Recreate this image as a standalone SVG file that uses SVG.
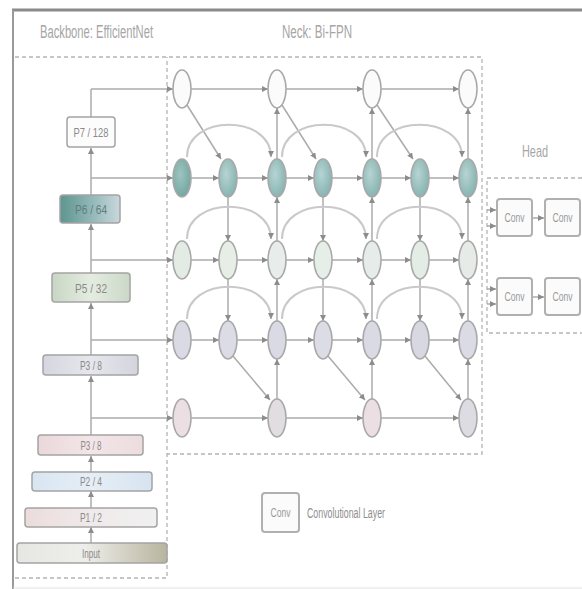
<svg xmlns="http://www.w3.org/2000/svg" width="582" height="589" viewBox="0 0 582 589">
<defs>
<style>
.ttl{font-family:"Liberation Sans",Arial,sans-serif;fill:#a6a6a6;font-size:18px}
.lbl{font-family:"Liberation Sans",Arial,sans-serif;fill:#8a8a8a;font-size:13px;text-anchor:middle}
.cv{font-family:"Liberation Sans",Arial,sans-serif;fill:#9a9a9a;font-size:12px;text-anchor:middle}
.dash{fill:none;stroke:#b4b4b4;stroke-width:1.3;stroke-dasharray:4 3}
.box{stroke:#a4a4a4;stroke-width:1.5}
.cbox{fill:#fbfbfb;stroke:#b0b0b0;stroke-width:2}
.nd{stroke:#a8a8a8;stroke-width:1.5}
.e{fill:none;stroke:#ababab;stroke-width:1.5;marker-end:url(#ah)}
.arc{fill:none;stroke:#c9c9c9;stroke-width:2;marker-end:url(#ah)}
.ln{fill:none;stroke:#ababab;stroke-width:1.5}
</style>
<marker id="ah" markerWidth="6" markerHeight="6" refX="6" refY="3" orient="auto" markerUnits="userSpaceOnUse">
<path d="M0,0 L6,3 L0,6 z" fill="#8c8c8c"/>
</marker>
<linearGradient id="gP6" x1="0" x2="1" y1="0" y2="0"><stop offset="0" stop-color="#5e958f"/><stop offset="0.5" stop-color="#8fb5b5"/><stop offset="1" stop-color="#c9d8dd"/></linearGradient>
<linearGradient id="gP5" x1="0" x2="1"><stop offset="0" stop-color="#c8d6c4"/><stop offset="0.5" stop-color="#e4ece0"/><stop offset="1" stop-color="#cbd8c8"/></linearGradient>
<linearGradient id="gP4" x1="0" x2="1"><stop offset="0" stop-color="#d6d6e0"/><stop offset="0.5" stop-color="#e6e6ec"/><stop offset="1" stop-color="#d4d4de"/></linearGradient>
<linearGradient id="gP3" x1="0" x2="1"><stop offset="0" stop-color="#ead8da"/><stop offset="0.5" stop-color="#f3e6e8"/><stop offset="1" stop-color="#ecdcde"/></linearGradient>
<linearGradient id="gP2" x1="0" x2="1"><stop offset="0" stop-color="#d8e6f2"/><stop offset="0.5" stop-color="#e6eef6"/><stop offset="1" stop-color="#d6e4f0"/></linearGradient>
<linearGradient id="gP1" x1="0" x2="1"><stop offset="0" stop-color="#ecdcdc"/><stop offset="0.5" stop-color="#f0eaea"/><stop offset="1" stop-color="#f0f0f0"/></linearGradient>
<linearGradient id="gIn" x1="0" x2="1"><stop offset="0" stop-color="#e6e6e2"/><stop offset="0.45" stop-color="#eeeeea"/><stop offset="1" stop-color="#b8b49e"/></linearGradient>
<radialGradient id="gT" cx="0.4" cy="0.4" r="0.7"><stop offset="0" stop-color="#b6d4d3"/><stop offset="1" stop-color="#80b0ac"/></radialGradient>
<radialGradient id="gT1" cx="0.4" cy="0.4" r="0.7"><stop offset="0" stop-color="#9ec4c0"/><stop offset="1" stop-color="#6ea49e"/></radialGradient>
</defs>
<rect width="582" height="589" fill="#ffffff"/>
<!-- frame -->
<line x1="12" y1="10" x2="582" y2="10" stroke="#8a8a8a" stroke-width="3"/>
<line x1="13" y1="10" x2="13" y2="589" stroke="#9a9a9a" stroke-width="2"/>
<line x1="13" y1="588" x2="582" y2="588" stroke="#e2e2e2" stroke-width="1"/>
<!-- section boxes -->
<g id="sections">
<polyline class="dash" points="15,57 482,57 482,454 167,454"/>
<polyline class="dash" points="15,578 167,578 167,57"/>
<polyline class="dash" points="582,178 487,178 487,333 582,333"/>
<text class="ttl" x="40" y="38" textLength="113" lengthAdjust="spacingAndGlyphs">Backbone: EfficientNet</text>
<text class="ttl" x="282" y="38" textLength="70" lengthAdjust="spacingAndGlyphs">Neck: Bi-FPN</text>
<text class="ttl" x="522" y="157" textLength="26" lengthAdjust="spacingAndGlyphs" style="font-size:16px">Head</text>
</g>
<!-- connectors -->
<g id="connectors">
<line class="e" x1="91" y1="543" x2="91" y2="527"/>
<line class="e" x1="91" y1="508" x2="91" y2="491"/>
<line class="e" x1="91" y1="472" x2="91" y2="456"/>
<line class="e" x1="91" y1="435" x2="91" y2="376"/>
<line class="e" x1="91" y1="355" x2="91" y2="303"/>
<line class="e" x1="91" y1="273" x2="91" y2="224"/>
<line class="e" x1="91" y1="195" x2="91" y2="148"/>
<line class="ln" x1="91" y1="117" x2="91" y2="89"/>
<line class="e" x1="91" y1="89" x2="173" y2="89"/>
<line class="e" x1="91" y1="178" x2="173" y2="178"/>
<line class="e" x1="91" y1="260" x2="173" y2="260"/>
<line class="e" x1="91" y1="340" x2="173" y2="340"/>
<line class="e" x1="91" y1="418" x2="173" y2="418"/>
<line class="e" x1="191" y1="89" x2="268" y2="89"/>
<line class="e" x1="286" y1="89" x2="363" y2="89"/>
<line class="e" x1="381" y1="89" x2="459" y2="89"/>
<line class="e" x1="191" y1="178" x2="219" y2="178"/>
<line class="e" x1="237" y1="178" x2="268" y2="178"/>
<line class="e" x1="286" y1="178" x2="314" y2="178"/>
<line class="e" x1="332" y1="178" x2="363" y2="178"/>
<line class="e" x1="381" y1="178" x2="411" y2="178"/>
<line class="e" x1="429" y1="178" x2="459" y2="178"/>
<line class="e" x1="191" y1="260" x2="219" y2="260"/>
<line class="e" x1="237" y1="260" x2="268" y2="260"/>
<line class="e" x1="286" y1="260" x2="314" y2="260"/>
<line class="e" x1="332" y1="260" x2="363" y2="260"/>
<line class="e" x1="381" y1="260" x2="411" y2="260"/>
<line class="e" x1="429" y1="260" x2="459" y2="260"/>
<line class="e" x1="191" y1="340" x2="219" y2="340"/>
<line class="e" x1="237" y1="340" x2="268" y2="340"/>
<line class="e" x1="286" y1="340" x2="314" y2="340"/>
<line class="e" x1="332" y1="340" x2="363" y2="340"/>
<line class="e" x1="381" y1="340" x2="411" y2="340"/>
<line class="e" x1="429" y1="340" x2="459" y2="340"/>
<line class="e" x1="191" y1="418" x2="268" y2="418"/>
<line class="e" x1="286" y1="418" x2="363" y2="418"/>
<line class="e" x1="381" y1="418" x2="459" y2="418"/>
<line class="e" x1="187" y1="105" x2="221" y2="159"/>
<line class="e" x1="282" y1="105" x2="316" y2="159"/>
<line class="e" x1="377" y1="105" x2="413" y2="159"/>
<line class="e" x1="233" y1="356" x2="270" y2="400"/>
<line class="e" x1="328" y1="356" x2="365" y2="400"/>
<line class="e" x1="425" y1="356" x2="461" y2="400"/>
<line class="e" x1="228" y1="197" x2="228" y2="241"/>
<line class="e" x1="323" y1="197" x2="323" y2="241"/>
<line class="e" x1="420" y1="197" x2="420" y2="241"/>
<line class="e" x1="228" y1="279" x2="228" y2="321"/>
<line class="e" x1="323" y1="279" x2="323" y2="321"/>
<line class="e" x1="420" y1="279" x2="420" y2="321"/>
<line class="e" x1="277" y1="159" x2="277" y2="108"/>
<line class="e" x1="372" y1="159" x2="372" y2="108"/>
<line class="e" x1="468" y1="159" x2="468" y2="108"/>
<line class="e" x1="277" y1="241" x2="277" y2="197"/>
<line class="e" x1="372" y1="241" x2="372" y2="197"/>
<line class="e" x1="468" y1="241" x2="468" y2="197"/>
<line class="e" x1="277" y1="321" x2="277" y2="279"/>
<line class="e" x1="372" y1="321" x2="372" y2="279"/>
<line class="e" x1="468" y1="321" x2="468" y2="279"/>
<line class="e" x1="277" y1="399" x2="277" y2="359"/>
<line class="e" x1="372" y1="399" x2="372" y2="359"/>
<line class="e" x1="468" y1="399" x2="468" y2="359"/>
<path class="arc" d="M187,157 C187,114 271,114 271,157"/>
<path class="arc" d="M282,157 C282,114 366,114 366,157"/>
<path class="arc" d="M377,157 C377,114 462,114 462,157"/>
<path class="arc" d="M187,239 C187,196 271,196 271,239"/>
<path class="arc" d="M282,239 C282,196 366,196 366,239"/>
<path class="arc" d="M377,239 C377,196 462,196 462,239"/>
<path class="arc" d="M187,319 C187,276 271,276 271,319"/>
<path class="arc" d="M282,319 C282,276 366,276 366,319"/>
<path class="arc" d="M377,319 C377,276 462,276 462,319"/>
<line class="e" x1="487" y1="210" x2="496" y2="210"/>
<line class="e" x1="487" y1="226" x2="496" y2="226"/>
<line class="e" x1="487" y1="289" x2="496" y2="289"/>
<line class="e" x1="487" y1="304" x2="496" y2="304"/>
<line class="e" x1="532" y1="218" x2="544" y2="218"/>
<line class="e" x1="532" y1="297" x2="544" y2="297"/>
</g>
<!-- backbone boxes -->
<g id="P7"><rect class="box" x="67" y="117" width="48" height="30" rx="3" fill="#fcfcfc"/><text class="lbl" x="91" y="137" textLength="35" lengthAdjust="spacingAndGlyphs">P7 / 128</text></g>
<g id="P6"><rect class="box" x="60" y="195" width="60" height="28" rx="3" fill="url(#gP6)"/><text class="lbl" x="91" y="214" textLength="32" lengthAdjust="spacingAndGlyphs" style="fill:#5f7f7d">P6 / 64</text></g>
<g id="P5"><rect class="box" x="52" y="273" width="78" height="29" rx="3" fill="url(#gP5)"/><text class="lbl" x="91" y="293" textLength="32" lengthAdjust="spacingAndGlyphs">P5 / 32</text></g>
<g id="P4"><rect class="box" x="43" y="355" width="95" height="20" rx="3" fill="url(#gP4)"/><text class="lbl" x="91" y="370" textLength="22" lengthAdjust="spacingAndGlyphs">P3 / 8</text></g>
<g id="P3"><rect class="box" x="38" y="435" width="105" height="20" rx="3" fill="url(#gP3)"/><text class="lbl" x="91" y="450" textLength="21" lengthAdjust="spacingAndGlyphs">P3 / 8</text></g>
<g id="P2"><rect class="box" x="32" y="472" width="120" height="19" rx="3" fill="url(#gP2)"/><text class="lbl" x="91" y="486" textLength="22" lengthAdjust="spacingAndGlyphs">P2 / 4</text></g>
<g id="P1"><rect class="box" x="25" y="508" width="132" height="19" rx="3" fill="url(#gP1)"/><text class="lbl" x="91" y="522" textLength="22" lengthAdjust="spacingAndGlyphs">P1 / 2</text></g>
<g id="Input"><rect class="box" x="17" y="543" width="150" height="20" rx="3" fill="url(#gIn)"/><text class="lbl" x="91" y="558" textLength="18" lengthAdjust="spacingAndGlyphs">Input</text></g>
<!-- BiFPN nodes -->
<g id="n1_1"><ellipse class="nd" cx="182" cy="89" rx="9" ry="19" fill="#fbfbfb"/></g>
<g id="n1_3"><ellipse class="nd" cx="277" cy="89" rx="9" ry="19" fill="#fbfbfb"/></g>
<g id="n1_5"><ellipse class="nd" cx="372" cy="89" rx="9" ry="19" fill="#fbfbfb"/></g>
<g id="n1_7"><ellipse class="nd" cx="468" cy="89" rx="9" ry="19" fill="#fbfbfb"/></g>
<g id="n2_1"><ellipse class="nd" cx="182" cy="178" rx="9" ry="19" fill="url(#gT1)"/></g>
<g id="n2_2"><ellipse class="nd" cx="228" cy="178" rx="9" ry="19" fill="url(#gT)"/></g>
<g id="n2_3"><ellipse class="nd" cx="277" cy="178" rx="9" ry="19" fill="url(#gT)"/></g>
<g id="n2_4"><ellipse class="nd" cx="323" cy="178" rx="9" ry="19" fill="url(#gT)"/></g>
<g id="n2_5"><ellipse class="nd" cx="372" cy="178" rx="9" ry="19" fill="url(#gT)"/></g>
<g id="n2_6"><ellipse class="nd" cx="420" cy="178" rx="9" ry="19" fill="url(#gT)"/></g>
<g id="n2_7"><ellipse class="nd" cx="468" cy="178" rx="9" ry="19" fill="url(#gT)"/></g>
<g id="n3_1"><ellipse class="nd" cx="182" cy="260" rx="9" ry="19" fill="#e3ebe5"/></g>
<g id="n3_2"><ellipse class="nd" cx="228" cy="260" rx="9" ry="19" fill="#e6eee6"/></g>
<g id="n3_3"><ellipse class="nd" cx="277" cy="260" rx="9" ry="19" fill="#e8ecea"/></g>
<g id="n3_4"><ellipse class="nd" cx="323" cy="260" rx="9" ry="19" fill="#e6eee8"/></g>
<g id="n3_5"><ellipse class="nd" cx="372" cy="260" rx="9" ry="19" fill="#e6ecea"/></g>
<g id="n3_6"><ellipse class="nd" cx="420" cy="260" rx="9" ry="19" fill="#e4ece6"/></g>
<g id="n3_7"><ellipse class="nd" cx="468" cy="260" rx="9" ry="19" fill="#e6ebe8"/></g>
<g id="n4_1"><ellipse class="nd" cx="182" cy="340" rx="9" ry="19" fill="#d9dae4"/></g>
<g id="n4_2"><ellipse class="nd" cx="228" cy="340" rx="9" ry="19" fill="#dbdce6"/></g>
<g id="n4_3"><ellipse class="nd" cx="277" cy="340" rx="9" ry="19" fill="#d9dae4"/></g>
<g id="n4_4"><ellipse class="nd" cx="323" cy="340" rx="9" ry="19" fill="#dbdce6"/></g>
<g id="n4_5"><ellipse class="nd" cx="372" cy="340" rx="9" ry="19" fill="#d9dae4"/></g>
<g id="n4_6"><ellipse class="nd" cx="420" cy="340" rx="9" ry="19" fill="#d7d8e2"/></g>
<g id="n4_7"><ellipse class="nd" cx="468" cy="340" rx="9" ry="19" fill="#dadbe4"/></g>
<g id="n5_1"><ellipse class="nd" cx="182" cy="418" rx="9" ry="19" fill="#ecdfe4"/></g>
<g id="n5_3"><ellipse class="nd" cx="277" cy="418" rx="9" ry="19" fill="#e2dde0"/></g>
<g id="n5_5"><ellipse class="nd" cx="372" cy="418" rx="9" ry="19" fill="#ecdfe3"/></g>
<g id="n5_7"><ellipse class="nd" cx="468" cy="418" rx="9" ry="19" fill="#dddce2"/></g>
<!-- head -->
<g id="h1a"><rect class="cbox" x="497" y="199" width="35" height="37" rx="3"/><text class="cv" x="514.5" y="222" textLength="20" lengthAdjust="spacingAndGlyphs">Conv</text></g>
<g id="h1b"><rect class="cbox" x="545" y="199" width="35" height="37" rx="3"/><text class="cv" x="562.5" y="222" textLength="20" lengthAdjust="spacingAndGlyphs">Conv</text></g>
<g id="h2a"><rect class="cbox" x="497" y="278" width="35" height="37" rx="3"/><text class="cv" x="514.5" y="301" textLength="20" lengthAdjust="spacingAndGlyphs">Conv</text></g>
<g id="h2b"><rect class="cbox" x="545" y="278" width="35" height="37" rx="3"/><text class="cv" x="562.5" y="301" textLength="20" lengthAdjust="spacingAndGlyphs">Conv</text></g>
<!-- legend -->
<g id="legend"><rect class="cbox" x="262" y="493" width="37" height="39" rx="3"/><text class="cv" x="280.5" y="517" textLength="20" lengthAdjust="spacingAndGlyphs">Conv</text><text class="ttl" x="307" y="518" textLength="78" lengthAdjust="spacingAndGlyphs" style="font-size:14px;fill:#8e8e8e">Convolutional Layer</text></g>
</svg>
